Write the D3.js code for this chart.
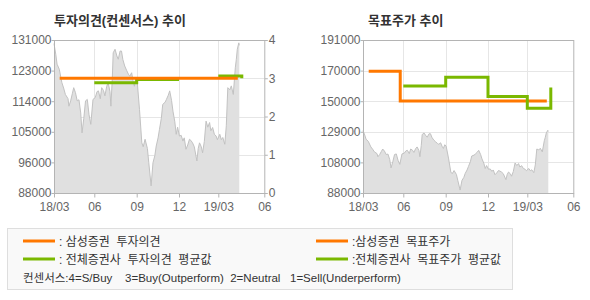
<!DOCTYPE html>
<html>
<head>
<meta charset="utf-8">
<script src="https://cdn.jsdelivr.net/npm/d3@7"></script>
<style>
  body { margin: 0; background: #fff; }
  svg { display: block; font-family: "Liberation Sans", "Noto Sans CJK KR", sans-serif; }
</style>
</head>
<body>
<svg id="chart" width="590" height="300"></svg>
<script>
// ---- data ----
const tickDates = ["2018-03-01", "2018-06-01", "2018-09-01", "2018-12-01", "2019-03-01", "2019-06-01"];
const tickLabels = ["18/03", "06", "09", "12", "19/03", "06"];

const priceDates = [
  "2018-03-01","2018-03-05","2018-03-08","2018-03-13","2018-03-19","2018-03-23","2018-03-27","2018-04-02",
  "2018-04-04","2018-04-08","2018-04-12","2018-04-15","2018-04-19","2018-04-23","2018-04-27","2018-05-01",
  "2018-05-04","2018-05-08","2018-05-12","2018-05-16","2018-05-20","2018-05-24","2018-05-29","2018-06-03",
  "2018-06-07","2018-06-10","2018-06-14","2018-06-17","2018-06-21","2018-06-24","2018-06-28","2018-07-01",
  "2018-07-05","2018-07-07","2018-07-10","2018-07-12","2018-07-16","2018-07-20","2018-07-23","2018-07-27",
  "2018-07-30","2018-08-02","2018-08-06","2018-08-10","2018-08-14","2018-08-17","2018-08-21","2018-08-24",
  "2018-08-27","2018-08-30","2018-09-02","2018-09-07","2018-09-12","2018-09-15","2018-09-19","2018-09-24",
  "2018-09-27","2018-10-02","2018-10-06","2018-10-10","2018-10-13","2018-10-17","2018-10-20","2018-10-24",
  "2018-10-27","2018-11-01","2018-11-04","2018-11-08","2018-11-11","2018-11-15","2018-11-18","2018-11-22",
  "2018-11-25","2018-11-28","2018-12-02","2018-12-06","2018-12-10","2018-12-13","2018-12-17","2018-12-21",
  "2018-12-25","2018-12-28","2019-01-01","2019-01-05","2019-01-11","2019-01-14","2019-01-17","2019-01-21",
  "2019-01-24","2019-01-28","2019-02-01","2019-02-05","2019-02-09","2019-02-12","2019-02-16","2019-02-20",
  "2019-02-24","2019-02-27","2019-03-04","2019-03-07","2019-03-10","2019-03-14","2019-03-17","2019-03-20",
  "2019-03-24","2019-03-27","2019-03-31","2019-04-04","2019-04-06","2019-04-08","2019-04-11","2019-04-12"
];
const priceValues = [
  130000,127000,124200,122800,119000,117500,115700,114500,
  112400,113900,116000,117600,116200,113900,114200,110500,
  104900,109000,113900,114300,110000,107300,114300,114800,
  116500,116700,114500,117600,116800,115300,118000,119000,
  116500,112400,120000,127400,128400,126500,125600,127900,
  127900,125500,123700,122500,121400,120800,121800,119500,
  118000,120500,119500,111500,102100,101000,103100,100500,
  96500,90000,96500,98500,101200,103500,105900,109000,
  112900,113500,114300,115500,116700,114000,111000,108000,
  104500,106500,104000,104200,102600,103500,100300,101500,
  103100,102800,102100,101000,97000,100500,102100,101000,
  99300,102500,108200,106500,107800,105500,106400,104500,
  104000,103000,104500,103000,103600,101700,106900,117600,
  117000,118100,115700,123200,125500,128400,130200,129500
];

// 투자의견 (1~4)
const opinionSamsungDates = ["2018-03-14", "2019-04-09"];
const opinionSamsung = [3, 3];
const opinionAvgDates = ["2018-06-01", "2018-09-01", "2018-12-01", null, "2019-03-01", "2019-04-17"];
const opinionAvg = [2.88, 2.97, 2.97, null, 3.06, 3.0];

// 목표주가
const targetSamsungDates = ["2018-03-14", "2018-05-25", "2019-04-09"];
const targetSamsung = [170000, 150000, 150000];
const targetAvgDates = ["2018-06-01", "2018-09-01", "2018-12-01", "2019-03-01", "2019-04-17"];
const targetAvg = [160000, 166000, 153000, 145000, 159000];

const leftTickLabels = ["88000", "96000", "105000", "114000", "123000", "131000"];
const rightTickLabels = ["88000", "108000", "129000", "150000", "170000", "191000"];
const opinionTicks = [0, 1, 2, 3, 4];

// ---- layout ----
const parse = d3.timeParse("%Y-%m-%d");
const ORANGE = "#ff7800", GREEN = "#7ab800";
const AXIS = "#b4b4b4", GRID = "#e6e6e6", LABEL = "#666";
// tick spacing on the original axis is not quite even
const tickOffsets = [0, 40.3, 82.7, 125, 164.3, 210.3];

const svg = d3.select("#chart");

const prices = priceDates.map((d, i) => ({ date: parse(d), v: priceValues[i] }));
const toPts = (dates, vals) => dates.map((d, i) => ({ date: d ? parse(d) : null, v: vals[i] }));

function panel(opt) {
  const g = svg.append("g");
  const x = d3.scaleTime()
    .domain(tickDates.map(parse))
    .range(tickOffsets.map(o => opt.left + o));
  const y = d3.scaleLinear().domain(opt.domain).range([opt.bottom, opt.top]);
  const x1 = opt.left + tickOffsets[tickOffsets.length - 1];

  // grid
  const vGrid = tickDates.slice(1, -1).map(parse);
  g.selectAll(".vg").data(vGrid).enter().append("line")
    .attr("x1", d => Math.round(x(d)) + 0.5).attr("x2", d => Math.round(x(d)) + 0.5)
    .attr("y1", opt.top).attr("y2", opt.bottom)
    .attr("stroke", GRID);
  g.selectAll(".hg").data(opt.hGrid).enter().append("line")
    .attr("x1", opt.left).attr("x2", x1)
    .attr("y1", d => Math.round(opt.hScale(d)) + 0.5).attr("y2", d => Math.round(opt.hScale(d)) + 0.5)
    .attr("stroke", GRID);

  // price area
  const area = d3.area().x(d => x(d.date)).y0(opt.bottom).y1(d => y(d.v));
  g.append("path").datum(prices).attr("d", area).attr("fill", "#e0e0e0");
  g.append("path").datum(prices)
    .attr("d", d3.line().x(d => x(d.date)).y(d => y(d.v)))
    .attr("fill", "none").attr("stroke", "#c2c2c2").attr("stroke-width", 1);

  // frame
  g.append("rect")
    .attr("x", opt.left + 0.5).attr("y", opt.top + 0.5)
    .attr("width", x1 - opt.left).attr("height", opt.bottom - opt.top)
    .attr("fill", "none").attr("stroke", AXIS);

  // step lines
  const step = d3.line().defined(d => d.v != null)
    .x(d => x(d.date)).y(d => opt.lineScale(d.v)).curve(d3.curveStepAfter);
  opt.lines.forEach(l => {
    g.append("path").datum(l.pts).attr("d", step)
      .attr("fill", "none").attr("stroke", l.color).attr("stroke-width", 3);
  });

  // x axis
  const xa = g.append("g").attr("transform", `translate(0,${opt.bottom + 0.5})`)
    .call(d3.axisBottom(x).tickValues(tickDates.map(parse))
      .tickFormat((d, i) => tickLabels[i]).tickSize(4).tickSizeOuter(0));
  xa.select(".domain").remove();
  xa.selectAll("line").attr("stroke", AXIS);
  xa.selectAll("text").attr("fill", LABEL).attr("font-size", 12).attr("dy", "0.9em");

  // left y labels
  const step6 = (opt.domain[1] - opt.domain[0]) / 5;
  const ya = g.append("g").attr("transform", `translate(${opt.left + 0.5},0)`)
    .call(d3.axisLeft(y).tickValues(d3.range(6).map(i => opt.domain[0] + i * step6))
      .tickFormat((d, i) => opt.yLabels[i]).tickSize(3).tickSizeOuter(0));
  ya.select(".domain").remove();
  ya.selectAll("line").attr("stroke", AXIS);
  ya.selectAll("text").attr("fill", LABEL).attr("font-size", 12).attr("x", -3);

  if (opt.right) {
    const ra = g.append("g").attr("transform", `translate(${x1 + 0.5},0)`)
      .call(d3.axisRight(opt.right).tickValues(opinionTicks).tickFormat(d3.format("d"))
        .tickSize(3).tickSizeOuter(0));
    ra.select(".domain").remove();
    ra.selectAll("line").attr("stroke", AXIS);
    ra.selectAll("text").attr("fill", LABEL).attr("font-size", 12).attr("x", 4);
  }

  g.append("text").attr("x", opt.left + opt.titleDx).attr("y", 25)
    .attr("font-size", 13).attr("font-weight", "bold").attr("fill", "#333")
    .text(opt.title);
}

const plotTop = 40, plotBottom = 193;
const yOpinion = d3.scaleLinear().domain([0, 4]).range([plotBottom, plotTop]);
const yTarget = d3.scaleLinear().domain([88000, 191000]).range([plotBottom, plotTop]);

panel({
  left: 54, top: plotTop, bottom: plotBottom, domain: [88000, 131000], yLabels: leftTickLabels,
  title: "투자의견(컨센서스) 추이", titleDx: 0,
  hScale: yOpinion, hGrid: [1, 2, 3],
  lineScale: yOpinion, right: yOpinion,
  lines: [
    { color: GREEN, pts: toPts(opinionAvgDates, opinionAvg) },
    { color: ORANGE, pts: toPts(opinionSamsungDates, opinionSamsung) }
  ]
});

panel({
  left: 363, top: plotTop, bottom: plotBottom, domain: [88000, 191000], yLabels: rightTickLabels,
  title: "목표주가 추이", titleDx: 5,
  hScale: yTarget, hGrid: d3.range(1, 5).map(i => 88000 + i * 20600),
  lineScale: yTarget, right: null,
  lines: [
    { color: ORANGE, pts: toPts(targetSamsungDates, targetSamsung) },
    { color: GREEN, pts: toPts(targetAvgDates, targetAvg) }
  ]
});

// ---- legend ----
const lg = svg.append("g");
lg.append("rect").attr("x", 7.5).attr("y", 228.5).attr("width", 505).attr("height", 61)
  .attr("fill", "#f9f9f9").attr("stroke", "#dedede");

const legendItems = [
  { x: 23, y: 241, color: ORANGE, text: ": 삼성증권  투자의견" },
  { x: 23, y: 259, color: GREEN, text: ": 전체증권사  투자의견  평균값" },
  { x: 316, y: 241, color: ORANGE, text: ":삼성증권  목표주가" },
  { x: 316, y: 259, color: GREEN, text: ":전체증권사  목표주가  평균값" }
];
legendItems.forEach(d => {
  lg.append("line").attr("x1", d.x).attr("x2", d.x + 32).attr("y1", d.y).attr("y2", d.y)
    .attr("stroke", d.color).attr("stroke-width", 3);
  lg.append("text").attr("x", d.x + 36).attr("y", d.y + 4.5)
    .attr("font-size", 12).attr("fill", "#333")
    .style("white-space", "pre").text(d.text);
});
lg.append("text").attr("x", 23).attr("y", 281.5)
  .attr("font-size", 11.5).attr("fill", "#333").style("white-space", "pre")
  .text("컨센서스:4=S/Buy    3=Buy(Outperform)  2=Neutral   1=Sell(Underperform)");
</script>
</body>
</html>
